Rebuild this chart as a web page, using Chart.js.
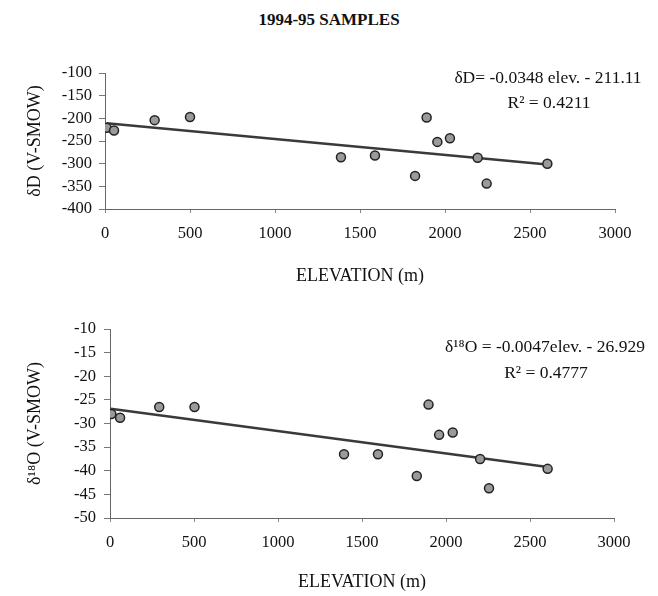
<!DOCTYPE html>
<html lang="en">
<head>
    <meta charset="UTF-8">
    <script src="https://cdn.jsdelivr.net/npm/chart.js@4.4.0/dist/chart.umd.min.js"></script>
    <title>1994-95 Samples</title>
    <style>
        html, body {margin: 0; padding: 0; background: #fff; overflow: hidden;}
        #title {position: absolute; left: 0; top: 10px; width: 658px; text-align: center;
                font: bold 17px "Liberation Serif", serif; color: #111;}
        canvas {position: absolute; left: 0;}
    </style>
</head>
<body>
    <div id="title">1994-95 SAMPLES</div>
    <canvas id="chartD" width="658" height="260" style="top:40px"></canvas>
    <canvas id="chartO" width="658" height="300" style="top:300px"></canvas>

    <script>
    // sample elevations (m)
    const elevD = [10, 53, 292, 500, 1388, 1588, 1892, 1955, 2029, 1824, 2192, 2245, 2602];
    const deltaD = [-221, -227, -204, -197, -286, -282, -198, -252, -244, -327, -287, -344, -300];
    const trendD = [{x: 10, y: -211}, {x: 2602, y: -302}];

    const elevO = [8, 60, 293, 503, 1393, 1595, 1896, 1959, 2040, 1826, 2203, 2256, 2605];
    const delta18O = [-28, -28.8, -26.5, -26.5, -36.5, -36.5, -26, -32.4, -31.9, -41.1, -37.5, -43.7, -39.6];
    const trendO = [{x: 4, y: -26.9}, {x: 2605, y: -39.2}];

    const xTicks = [0, 500, 1000, 1500, 2000, 2500, 3000];
    const yTicksD = [-400, -350, -300, -250, -200, -150, -100];
    const yTicksO = [-50, -45, -40, -35, -30, -25, -20, -15, -10];

    const serif = '"Liberation Serif", "Times New Roman", serif';
    Chart.defaults.font.family = serif;
    Chart.defaults.color = '#111';

    function pts(xs, ys) {
        return xs.map((x, i) => ({x: x, y: ys[i]}));
    }

    // equation text in the top right corner
    function eqPlugin(lines) {
        return {
            id: 'eq',
            afterDraw(chart) {
                const c = chart.ctx;
                c.save();
                c.fillStyle = '#111';
                c.font = '17.5px ' + serif;
                c.textAlign = 'center';
                c.textBaseline = 'middle';
                lines.forEach(l => c.fillText(l.text, l.x, l.y));
                c.restore();
            }
        };
    }

    function makeChart(id, data, trend, yTicks, yTitle, box, eqLines) {
        return new Chart(document.getElementById(id), {
            type: 'scatter',
            data: {
                datasets: [{
                    data: data,
                    pointRadius: 4.5,
                    pointBackgroundColor: '#9a9a9a',
                    pointBorderColor: '#222',
                    pointBorderWidth: 1.5
                }, {
                    type: 'line',
                    data: trend,
                    showLine: true,
                    pointRadius: 0,
                    borderColor: '#3a3a3a',
                    borderWidth: 2.5
                }]
            },
            options: {
                responsive: false,
                animation: false,
                layout: {padding: {top: box.top, right: box.right, left: 0, bottom: 0}},
                plugins: {legend: {display: false}, tooltip: {enabled: false}},
                scales: {
                    x: {
                        type: 'linear', min: 0, max: 3000,
                        afterBuildTicks: s => { s.ticks = xTicks.map(v => ({value: v})); },
                        afterFit: s => { s.height = box.xh; },
                        grid: {drawOnChartArea: false, tickLength: 4, tickColor: '#888'},
                        border: {color: '#666', width: 1, dash: [26, 7, 5, 7]},
                        ticks: {font: {size: 16.5}, padding: 11, maxRotation: 0,
                                autoSkip: false, callback: v => v},
                        title: {display: true, text: 'ELEVATION (m)', font: {size: 18},
                                padding: {top: 0, bottom: box.xtp}}
                    },
                    y: {
                        type: 'linear', min: yTicks[0], max: yTicks[yTicks.length - 1],
                        afterBuildTicks: s => { s.ticks = yTicks.map(v => ({value: v})); },
                        ticks: {font: {size: 16.5}, padding: box.ytp, autoSkip: false},
                        afterFit: s => { s.width = box.yw; },
                        grid: {drawOnChartArea: false, tickLength: 6, tickColor: '#777'},
                        border: {color: '#666', width: 1, dash: [2, 3]},
                        title: {display: true, text: yTitle, font: {size: 18},
                                padding: {top: 24, bottom: 0}}
                    }
                }
            },
            plugins: [eqPlugin(eqLines)]
        });
    }

    makeChart('chartD', pts(elevD, deltaD), trendD, yTicksD, 'δD (V-SMOW)',
        {top: 33, right: 43, xh: 91, yw: 105, xtp: 13, ytp: 7},
        [{text: 'δD= -0.0348 elev. - 211.11', x: 548, y: 38},
         {text: 'R² = 0.4211', x: 549, y: 63}]);

    makeChart('chartO', pts(elevO, delta18O), trendO, yTicksO, 'δ¹⁸O (V-SMOW)',
        {top: 29, right: 44, xh: 82, yw: 110, xtp: 7, ytp: 8},
        [{text: 'δ¹⁸O = -0.0047elev. - 26.929', x: 545, y: 47},
         {text: 'R² = 0.4777', x: 546, y: 73}]);
    </script>
</body>
</html>
